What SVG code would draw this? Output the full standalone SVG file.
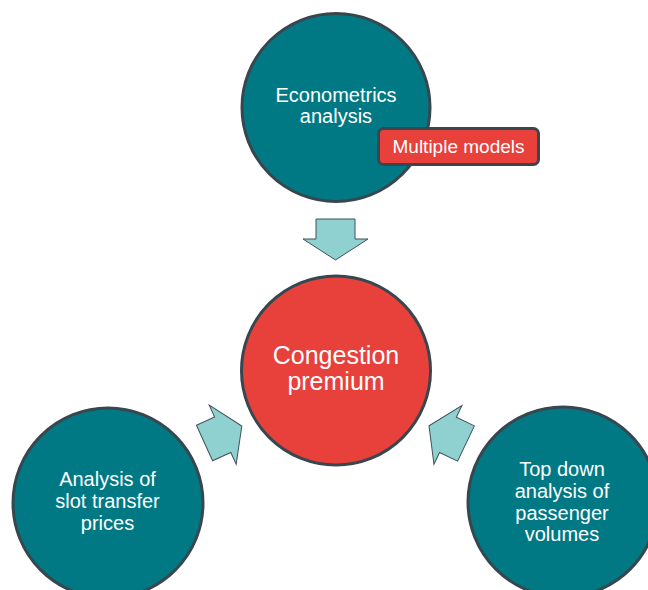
<svg xmlns="http://www.w3.org/2000/svg" width="648" height="590" viewBox="0 0 648 590">
<style>
.teal{fill:#007984;stroke:#37474f;stroke-width:3}
.red{fill:#e8403a;stroke:#37474f;stroke-width:3}
.arrow{fill:#8fd0d0;stroke:#3f5058;stroke-width:1}
text{font-family:"Liberation Sans",Arial,sans-serif;fill:#ffffff;text-anchor:middle}
.t{font-size:20px}
.big{font-size:25px}
.tag{font-size:19px}
</style>
<defs>
<path id="blk" d="M-19.5,0 L19.5,0 L19.5,20 L32.5,20 L0,41 L-32.5,20 L-19.5,20 Z"/>
</defs>
<rect width="648" height="590" fill="#ffffff"/>
<g id="connectors">
<use href="#blk" class="arrow" transform="translate(335.5,219)"/>
<use href="#blk" class="arrow" transform="translate(204.5,443) rotate(-114.5)"/>
<use href="#blk" class="arrow" transform="translate(466,443.5) rotate(115.5)"/>
</g>
<g id="econometrics">
<circle class="teal" cx="336" cy="107.5" r="94"/>
<text class="t" x="336" y="102">Econometrics</text>
<text class="t" x="336" y="123">analysis</text>
</g>
<g id="multiple-models">
<rect class="red" x="378.5" y="128.5" width="160" height="36" rx="5"/>
<text class="tag" x="458.5" y="153">Multiple models</text>
</g>
<g id="congestion">
<circle class="red" cx="336" cy="370.5" r="94.5"/>
<text class="big" x="336" y="364">Congestion</text>
<text class="big" x="336" y="390">premium</text>
</g>
<g id="slot-transfer">
<circle class="teal" cx="108" cy="503" r="95"/>
<text class="t" x="107.5" y="486">Analysis of</text>
<text class="t" x="107.5" y="508">slot transfer</text>
<text class="t" x="107.5" y="530">prices</text>
</g>
<g id="top-down">
<circle class="teal" cx="563" cy="502" r="95"/>
<text class="t" x="562" y="476">Top down</text>
<text class="t" x="562" y="498">analysis of</text>
<text class="t" x="562" y="520">passenger</text>
<text class="t" x="562" y="541">volumes</text>
</g>
</svg>
